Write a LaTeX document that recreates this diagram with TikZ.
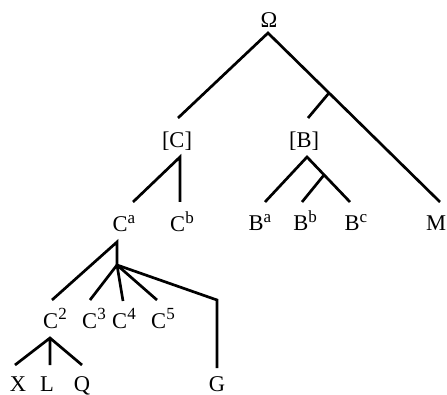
\documentclass[tikz,border=0pt]{standalone}
\usepackage{fontspec}
\setmainfont{Liberation Serif}
\usepackage{tikz}
\newcommand{\up}[1]{\raisebox{8.5pt}{\fontsize{17}{17}\selectfont #1}}

\begin{document}
\begin{tikzpicture}[x = 1pt, y = -1pt, line width = 2.7pt,
        every node/.style = {inner sep = 0pt, anchor = base, font = \fontsize{22.5}{24}\selectfont}]
        \useasboundingbox (0,0) rectangle (447,395);
        \node (omega) at (269,28) {Ω};
        \node (C) at (177,148) {[C]};
        \node (B) at (304,148) {[B]};
        \node (Ca) at (124,232) {C\up{a}};
        \node (Cb) at (182,232) {C\up{b}};
        \node (Ba) at (260,231) {B\up{a}};
        \node (Bb) at (305,231) {B\up{b}};
        \node (Bc) at (356,231) {B\up{c}};
        \node (M) at (436,231) {M};
        \node (C2) at (55,328) {C\up{2}};
        \node (C3) at (94,328) {C\up{3}};
        \node (C4) at (124,328) {C\up{4}};
        \node (C5) at (163,328) {C\up{5}};
        \node (X) at (18,391) {X};
        \node (L) at (47,391) {L};
        \node (Q) at (82,391) {Q};
        \node (G) at (217,391) {G};
        \coordinate (o) at (268,33);
        \coordinate (tC) at (178,118);
        \coordinate (tM) at (440,202);
        \coordinate (jB) at (329,93);
        \coordinate (tB) at (308,118);
        \coordinate (aB) at (307,157);
        \coordinate (tBa) at (265,202);
        \coordinate (tBc) at (350,202);
        \coordinate (jBc) at (324,175);
        \coordinate (tBb) at (302,202);
        \coordinate (aC) at (180,157);
        \coordinate (tCa) at (133,202);
        \coordinate (tCb) at (180,202);
        \coordinate (aCa) at (117,242);
        \coordinate (h) at (117,265);
        \coordinate (tC2) at (52,300);
        \coordinate (tC3) at (90,300);
        \coordinate (tC4) at (123,301);
        \coordinate (tC5) at (157,300);
        \coordinate (bG) at (217,300);
        \coordinate (tG) at (217,368);
        \coordinate (aC2) at (50,338);
        \coordinate (tX) at (15,365);
        \coordinate (tL) at (50,365);
        \coordinate (tQ) at (82,365);
        \draw (tC) -- (o) -- (tM);
        \draw (jB) -- (tB);
        \draw (tBa) -- (aB) -- (tBc);
        \draw (jBc) -- (tBb);
        \draw (tCa) -- (aC) -- (tCb);
        \draw (tC2) -- (aCa) -- (h);
        \draw (h) -- (tC3) (h) -- (tC4) (h) -- (tC5);
        \draw (h) -- (bG) -- (tG);
        \draw (tX) -- (aC2) -- (tQ) (aC2) -- (tL);
    \end{tikzpicture}
\end{document}
